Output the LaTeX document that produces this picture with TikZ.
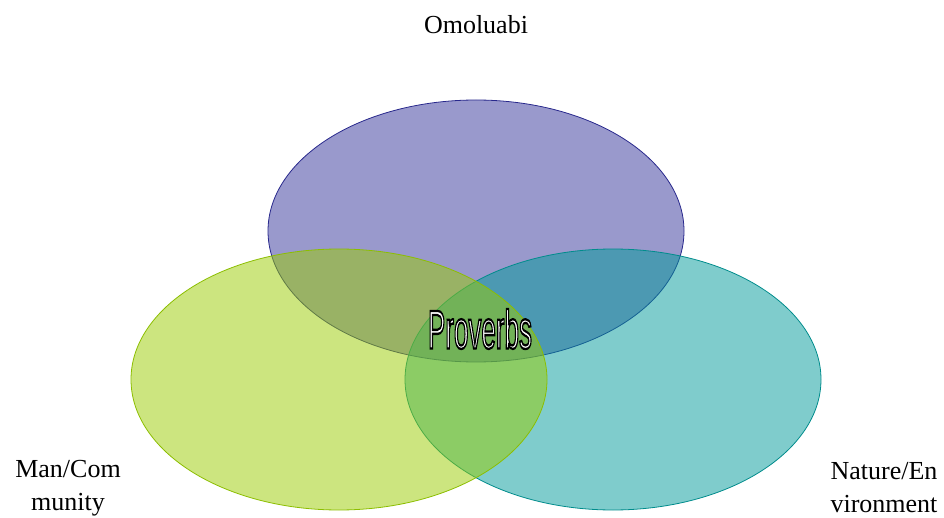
\documentclass[tikz,border=0pt]{standalone}
\usepackage{fontspec}
\setmainfont{Liberation Serif}
\newfontfamily\provfont{Liberation Sans}
\definecolor{cpurple}{RGB}{51,51,153}
\definecolor{cgreen}{RGB}{153,204,0}
\definecolor{cteal}{RGB}{0,153,153}
\definecolor{cpurpleline}{RGB}{40,40,140}
\definecolor{cgreenline}{RGB}{140,190,0}
\definecolor{ctealline}{RGB}{0,140,140}
\newcommand{\outlinetext}[1]{\textcolor{white}{\special{pdf:literal q 0 G 2 Tr 2.2 w}#1\special{pdf:literal Q}}}
\begin{document}
\begin{tikzpicture}[x=1pt,y=-1pt,
  venn/.style={fill opacity=0.5, line width=0.8pt},
  lbl/.style={font=\fontsize{26}{33}\selectfont, align=center, inner sep=0pt}]
\useasboundingbox (0,0) rectangle (944,518);
\path[venn, fill=cpurple, draw=cpurpleline] (476,231) ellipse [x radius=208, y radius=131];
\path[venn, fill=cteal, draw=ctealline] (613,379.5) ellipse [x radius=208, y radius=130.5];
\path[venn, fill=cgreen, draw=cgreenline] (339,379.5) ellipse [x radius=208, y radius=130.5];
\node[lbl] (om) at (476,25) {Omoluabi};
\node[lbl] (man) at (68,488) {Man/Com\\munity};
\node[lbl] (nat) at (884,488) {Nature/En\\vironment};
\node[inner sep=0pt] (prov) at (480,329) {\scalebox{0.5}[1.05]{\provfont\fontsize{52}{52}\selectfont\outlinetext{Proverbs}}};
\end{tikzpicture}
\end{document}
